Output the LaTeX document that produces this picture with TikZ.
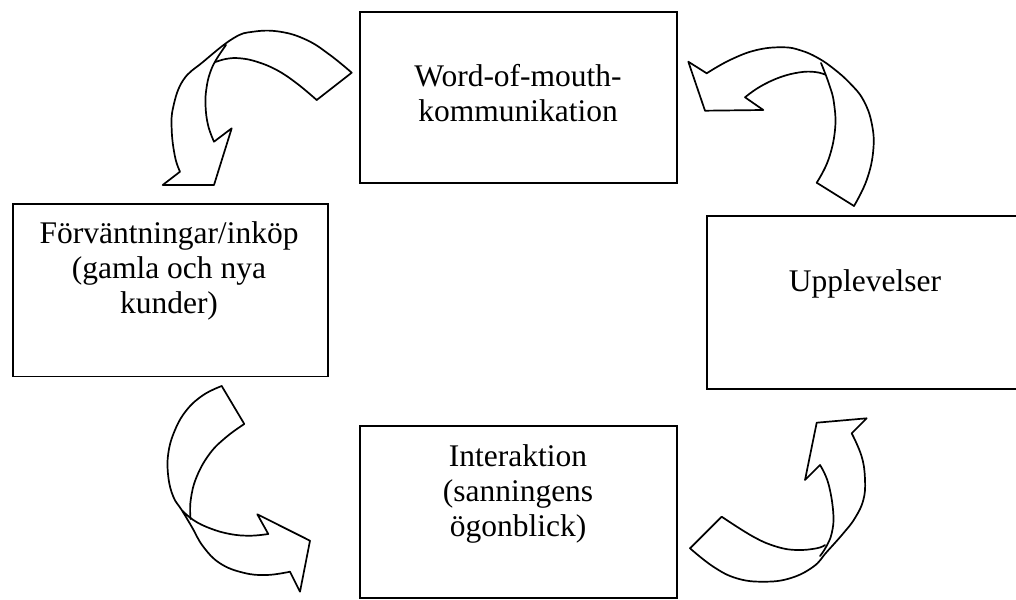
\documentclass[tikz,border=0pt]{standalone}
\usepackage{fontspec}
\setmainfont{Liberation Serif}
\begin{document}
\begin{tikzpicture}[x=1pt,y=-1pt,
  box/.style={draw, line width=1.8pt, rectangle, inner sep=0pt},
  caption/.style={font=\fontsize{31.5}{35}\selectfont, align=center, anchor=base, inner sep=0pt},
  ribbon/.style={draw, line width=1.7pt, line join=round, line cap=round},
  edge/.style={smooth, tension=0.7}]
\useasboundingbox (0,0) rectangle (1016,599);
\clip (0,0) rectangle (1016,599);

% the four stages
\node[box, minimum width=317pt, minimum height=171pt] (wom) at (518.5,97.5) {};
\node[box, minimum width=315pt, minimum height=172.5pt] (forv) at (170.3,290.3) {};
\node[box, minimum width=313pt, minimum height=173pt] (uppl) at (863.7,302.5) {};
\node[box, minimum width=317pt, minimum height=172pt] (inter) at (518.5,512) {};

% captions (base anchor sits on the last line)
\node[caption] (womtext) at (518,121.7) {Word-of-mouth-\\kommunikation};
\node[caption] (forvtext) at (169,313) {Förväntningar/inköp\\(gamla och nya\\kunder)};
\node[caption] (uppltext) at (865,291.7) {Upplevelser};
\node[caption] (intertext) at (518,536.7) {Interaktion\\(sanningens\\ögonblick)};

% twisted curved arrow: word-of-mouth -> expectations
\draw[ribbon] (316.7,100) -- (351.7,72.7)
  -- plot[edge] coordinates {(351.7,72.7) (330,55) (306.7,40) (280,31.7) (253.3,31.7) (233.3,38.3) (203.3,61.7) (183.3,80) (173.3,106.7) (171.7,130) (175,156.7) (180,171.7)}
  -- (162.7,185) -- (214,185) -- (231.7,128.3) -- (214,141.7)
  -- plot[edge] coordinates {(214,141.7) (208,125) (205.5,105) (206.5,88) (210,73) (216,60) (226,45)};
\draw[ribbon] plot[edge] coordinates {(316.7,100) (296.7,83.3) (276.7,70) (256.7,61.7) (240,58.3) (226.7,58.8) (215.5,62)};

% twisted curved arrow: experiences -> word-of-mouth
\draw[ribbon] (816.7,182.7) -- (854,206)
  -- plot[edge] coordinates {(854,206) (866.7,180) (873.3,150) (871.7,123.3) (863.3,100) (850,83.3) (834,69) (818,58) (801,50.5) (783.3,47.3) (756.7,50) (730,60) (706.7,73.3)}
  -- (688.3,61.7) -- (705,110.7) -- (763.3,110) -- (745,97.3)
  -- plot[edge] coordinates {(745,97.3) (760,86.7) (780,77.3) (800,72.3) (815,72) (825,74.5)};
\draw[ribbon] plot[edge] coordinates {(816.7,182.7) (828.3,160) (835,130) (834,103.3) (829,84) (821,63)};

% twisted curved arrow: expectations -> interaction
\draw[ribbon] (221.7,386) -- (244.3,424)
  -- plot[edge] coordinates {(244.3,424) (226.7,436.7) (210,453.3) (196.7,476.7) (190.7,500) (190.5,519)};
\draw[ribbon] (221.7,386)
  -- plot[edge] coordinates {(221.7,386) (203.3,395) (186.7,410) (175,430) (168.3,453.3) (168.3,476.7) (173.3,496.7) (181.7,510) (191.7,526.7) (203.3,546.7) (220,563.3) (243.3,572.7) (266.7,575) (290,571.7)}
  -- (300,591.7) -- (310,540.7) -- (257.3,514.3) -- (268.3,534)
  -- plot[edge] coordinates {(268.3,534) (250,535.7) (230,534) (210,528.3) (193.3,520) (181.7,510)};

% twisted curved arrow: interaction -> experiences
\draw[ribbon] (690,548.3) -- (721.7,516.7)
  -- plot[edge] coordinates {(721.7,516.7) (753.3,536.7) (776.7,546.7) (796.7,550) (816.7,548.3) (825,545)};
\draw[ribbon] (690,548.3)
  -- plot[edge] coordinates {(690,548.3) (713.3,566.7) (736.7,578.3) (763.3,581.7) (790,578.3) (813.3,566.7) (826.7,552) (843.3,533.3) (855,518) (863.3,500) (865,480) (861.7,456.7) (851.7,433.3)}
  -- (866.7,418.3) -- (816.7,422.7) -- (805,480) -- (820,465)
  -- plot[edge] coordinates {(820,465) (828.3,483.3) (833.3,513.3) (831.7,533.3) (826,547) (820,556)};
\end{tikzpicture}
\end{document}
